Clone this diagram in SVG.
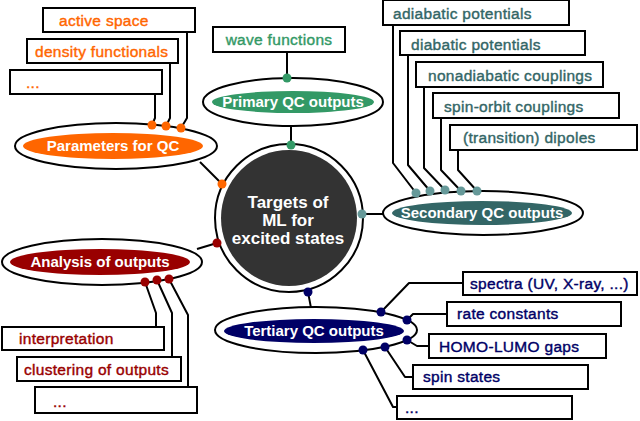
<svg xmlns="http://www.w3.org/2000/svg" width="640" height="421" viewBox="0 0 640 421">
<style>
.box{fill:#fff;stroke:#000;stroke-width:2}
.ring{fill:#fff;stroke:#000;stroke-width:2}
.ln{fill:none;stroke:#000;stroke-width:2;stroke-linejoin:round}
.t{font-family:"Liberation Sans",Arial,sans-serif;font-size:15.5px;letter-spacing:0.3px;stroke-width:0.4px}
.b{font-family:"Liberation Sans",Arial,sans-serif;font-size:15px;font-weight:bold;fill:#fff;text-anchor:middle}
.or{fill:#ff6600}.gr{fill:#339966}.te{fill:#336666}.tl{fill:#669999}.rd{fill:#990000}.nv{fill:#000066}
.t.or{stroke:#ff6600}.t.gr{stroke:#339966}.t.te{stroke:#336666}.t.rd{stroke:#990000}.t.nv{stroke:#000066}
</style>
<rect width="640" height="421" fill="#fff"/>
<g id="connectors">
<path class="ln" d="M187,32 V118 L181,128"/>
<path class="ln" d="M170,63 V118 L166,126"/>
<path class="ln" d="M155,94 V118 L152,125"/>
<path class="ln" d="M200,162 L222,184"/>
<path class="ln" d="M287,52 V78"/>
<path class="ln" d="M291,127 V144"/>
<path class="ln" d="M393,25 V163 L416,193"/>
<path class="ln" d="M408,55 V165 L430,191"/>
<path class="ln" d="M424,87 V168 L445,190"/>
<path class="ln" d="M441,118 V170 L461,191"/>
<path class="ln" d="M458,150 V170 L477,191"/>
<path class="ln" d="M362,214 H384"/>
<path class="ln" d="M197,249 L217,243"/>
<path class="ln" d="M145,282 L156,313 V327"/>
<path class="ln" d="M157,280 L172,313 V357"/>
<path class="ln" d="M169,279 L188,315 V387"/>
<path class="ln" d="M308,292 L311,308"/>
<path class="ln" d="M381,312 L409,283 H463"/>
<path class="ln" d="M407,320 L413,314 H447"/>
<path class="ln" d="M407,340 L417,346 H429"/>
<path class="ln" d="M385,347 L405,377 H413"/>
<path class="ln" d="M363,350 L393,407 H397"/>
</g>
<g id="center">
<circle class="ring" cx="289" cy="218" r="74"/>
<circle cx="289" cy="218" r="68" fill="#333333"/>
<text class="b" style="font-size:17px" x="288" y="208">Targets of</text>
<text class="b" style="font-size:17px" x="288" y="226">ML for</text>
<text class="b" style="font-size:17px" x="288" y="244">excited states</text>
<circle class="gr" cx="291" cy="145" r="4.5"/>
<circle class="or" cx="222" cy="184" r="4.5"/>
<circle class="tl" cx="362" cy="214" r="4.5"/>
<circle class="rd" cx="217" cy="243" r="4.5"/>
<circle class="nv" cx="308" cy="292" r="4.5"/>
</g>
<g id="params">
<ellipse class="ring" cx="116" cy="146" rx="101" ry="23"/>
<ellipse class="or" cx="113" cy="146" rx="90" ry="13"/>
<text class="b" x="113" y="151">Parameters for QC</text>
<circle class="or" cx="152" cy="125" r="4.5"/>
<circle class="or" cx="166" cy="126" r="4.5"/>
<circle class="or" cx="181" cy="128" r="4.5"/>
</g>
<g id="p-active"><rect class="box" x="43" y="8" width="152" height="24"/><text class="t or" x="59" y="26">active space</text></g>
<g id="p-density"><rect class="box" x="27" y="39" width="151" height="24"/><text class="t or" x="35" y="57">density functionals</text></g>
<g id="p-more"><rect class="box" x="10" y="70" width="152" height="24"/><text class="t or" x="26" y="88">...</text></g>
<g id="primary">
<ellipse class="ring" cx="293" cy="102" rx="90" ry="24"/>
<ellipse class="gr" cx="293" cy="102" rx="81" ry="11"/>
<text class="b" x="293" y="107">Primary QC outputs</text>
<circle class="gr" cx="287" cy="78" r="4.5"/>
</g>
<g id="wave"><rect class="box" x="213" y="27" width="132" height="25"/><text class="t gr" x="279" y="45" text-anchor="middle">wave functions</text></g>
<g id="secondary">
<ellipse class="ring" cx="483" cy="213" rx="100" ry="22"/>
<ellipse class="te" cx="482" cy="213" rx="90" ry="12"/>
<text class="b" x="482" y="218">Secondary QC outputs</text>
<circle class="tl" cx="416" cy="193" r="4.5"/>
<circle class="tl" cx="430" cy="191" r="4.5"/>
<circle class="tl" cx="445" cy="190" r="4.5"/>
<circle class="tl" cx="461" cy="191" r="4.5"/>
<circle class="tl" cx="477" cy="191" r="4.5"/>
</g>
<g id="s-adiabatic"><rect class="box" x="383" y="0" width="186" height="25"/><text class="t te" x="393" y="19">adiabatic potentials</text></g>
<g id="s-diabatic"><rect class="box" x="400" y="31" width="185" height="24"/><text class="t te" x="411" y="50">diabatic potentials</text></g>
<g id="s-nonadiabatic"><rect class="box" x="416" y="62" width="187" height="25"/><text class="t te" x="428" y="81">nonadiabatic couplings</text></g>
<g id="s-soc"><rect class="box" x="433" y="93" width="186" height="25"/><text class="t te" x="444" y="112">spin-orbit couplings</text></g>
<g id="s-dipoles"><rect class="box" x="450" y="125" width="187" height="25"/><text class="t te" x="463" y="143">(transition) dipoles</text></g>
<g id="analysis">
<ellipse class="ring" cx="102" cy="262" rx="100" ry="23"/>
<ellipse class="rd" cx="100" cy="262" rx="90" ry="13"/>
<text class="b" x="100" y="267">Analysis of outputs</text>
<circle class="rd" cx="145" cy="282" r="4.5"/>
<circle class="rd" cx="157" cy="280" r="4.5"/>
<circle class="rd" cx="169" cy="279" r="4.5"/>
</g>
<g id="a-interp"><rect class="box" x="2" y="327" width="162" height="23"/><text class="t rd" x="19" y="344">interpretation</text></g>
<g id="a-cluster"><rect class="box" x="17" y="357" width="164" height="24"/><text class="t rd" x="24" y="375">clustering of outputs</text></g>
<g id="a-more"><rect class="box" x="35" y="387" width="162" height="26"/><text class="t rd" x="53" y="407">...</text></g>
<g id="tertiary">
<ellipse class="ring" cx="316" cy="330" rx="101" ry="23"/>
<ellipse class="nv" cx="314" cy="331" rx="90" ry="12"/>
<text class="b" x="314" y="336">Tertiary QC outputs</text>
<circle class="nv" cx="381" cy="312" r="4.5"/>
<circle class="nv" cx="407" cy="320" r="4.5"/>
<circle class="nv" cx="407" cy="340" r="4.5"/>
<circle class="nv" cx="385" cy="347" r="4.5"/>
<circle class="nv" cx="363" cy="350" r="4.5"/>
</g>
<g id="t-spectra"><rect class="box" x="463" y="272" width="174" height="23"/><text class="t nv" x="470" y="289">spectra (UV, X-ray, ...)</text></g>
<g id="t-rate"><rect class="box" x="447" y="302" width="174" height="24"/><text class="t nv" x="457" y="319">rate constants</text></g>
<g id="t-homo"><rect class="box" x="429" y="334" width="177" height="24"/><text class="t nv" x="439" y="352">HOMO-LUMO gaps</text></g>
<g id="t-spin"><rect class="box" x="413" y="365" width="175" height="24"/><text class="t nv" x="423" y="382">spin states</text></g>
<g id="t-more"><rect class="box" x="397" y="396" width="175" height="23"/><text class="t nv" x="405" y="413">...</text></g>
</svg>
